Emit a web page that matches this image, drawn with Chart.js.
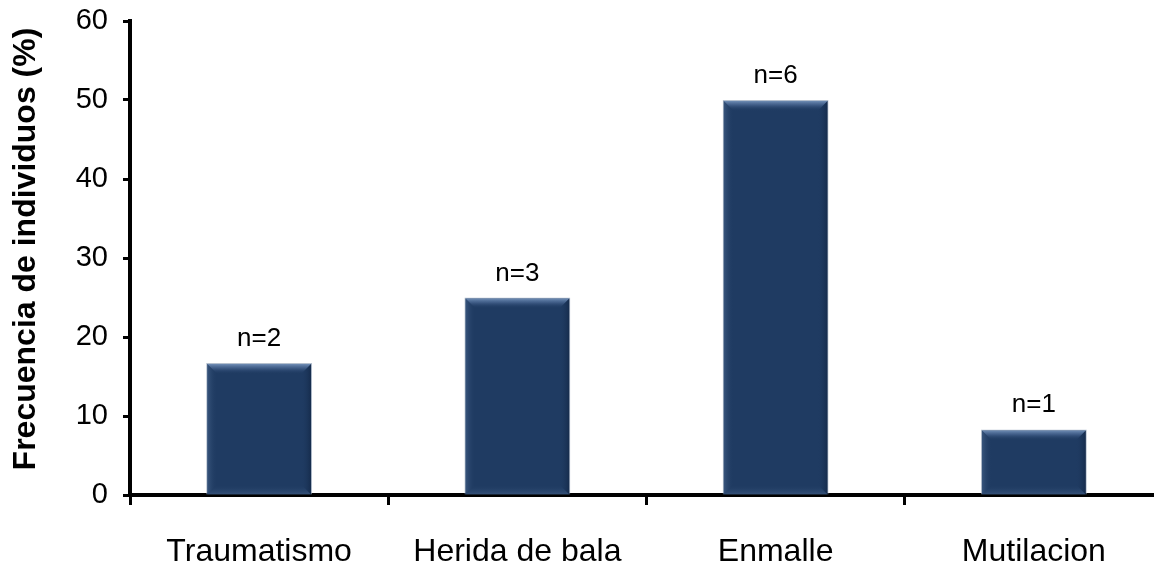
<!DOCTYPE html>
<html>
<head>
<meta charset="utf-8">
<script src="https://cdn.jsdelivr.net/npm/chart.js@4/dist/chart.umd.min.js"></script>
<style>
  html, body { margin: 0; padding: 0; background: #fff; overflow: hidden; }
  #wrap { position: absolute; left: 0; top: 0; width: 1168px; height: 563px; }
</style>
</head>
<body>
<div id="wrap"><canvas id="chart" width="1168" height="563"></canvas></div>
<script>
// Causes of injury and share of individuals affected
const categories = ['Traumatismo', 'Herida de bala', 'Enmalle', 'Mutilacion'];
const frequencyPct = [16.7, 25, 50, 8.3];
const counts = [2, 3, 6, 1];
const yTicks = [0, 10, 20, 30, 40, 50, 60];
const yTitle = 'Frecuencia de individuos (%)';

const FONT = "'Liberation Sans', Arial, sans-serif";
const BAR_FILL = '#1f3b62';

// Bevelled look on each bar: light top edge, shaded sides, soft bottom edge
const bevelPlugin = {
  id: 'bevel',
  afterDatasetsDraw(chart) {
    const ctx = chart.ctx;
    chart.getDatasetMeta(0).data.forEach((bar) => {
      const { x, y, base, width } = bar.getProps(['x', 'y', 'base', 'width'], true);
      const l = x - width / 2 + 1, r = x + width / 2 - 1, t = y + 1, b = base;
      const s = Math.min(10, (b - t) / 2);
      ctx.save();
      // top facet
      let g = ctx.createLinearGradient(0, t, 0, t + s);
      g.addColorStop(0, 'rgba(120,150,190,0.9)');
      g.addColorStop(0.4, 'rgba(90,120,165,0.55)');
      g.addColorStop(1, 'rgba(31,59,98,0)');
      ctx.fillStyle = g;
      ctx.beginPath();
      ctx.moveTo(l, t); ctx.lineTo(r, t); ctx.lineTo(r - s, t + s); ctx.lineTo(l + s, t + s);
      ctx.closePath(); ctx.fill();
      // left facet
      g = ctx.createLinearGradient(l, 0, l + s, 0);
      g.addColorStop(0, 'rgba(80,110,150,0.5)');
      g.addColorStop(1, 'rgba(31,59,98,0)');
      ctx.fillStyle = g;
      ctx.beginPath();
      ctx.moveTo(l, t); ctx.lineTo(l + s, t + s); ctx.lineTo(l + s, b - s); ctx.lineTo(l, b);
      ctx.closePath(); ctx.fill();
      // right facet
      g = ctx.createLinearGradient(r, 0, r - s, 0);
      g.addColorStop(0, 'rgba(10,25,50,0.45)');
      g.addColorStop(1, 'rgba(31,59,98,0)');
      ctx.fillStyle = g;
      ctx.beginPath();
      ctx.moveTo(r, t); ctx.lineTo(r - s, t + s); ctx.lineTo(r - s, b - s); ctx.lineTo(r, b);
      ctx.closePath(); ctx.fill();
      // bottom facet
      g = ctx.createLinearGradient(0, b, 0, b - s);
      g.addColorStop(0, 'rgba(80,110,150,0.45)');
      g.addColorStop(1, 'rgba(31,59,98,0)');
      ctx.fillStyle = g;
      ctx.beginPath();
      ctx.moveTo(l, b); ctx.lineTo(r, b); ctx.lineTo(r - s, b - s); ctx.lineTo(l + s, b - s);
      ctx.closePath(); ctx.fill();
      ctx.restore();
    });
  }
};

// "n=" count above each bar
const countLabels = {
  id: 'countLabels',
  afterDatasetsDraw(chart) {
    const ctx = chart.ctx;
    ctx.save();
    ctx.font = '26px ' + FONT;
    ctx.fillStyle = '#000';
    ctx.textAlign = 'center';
    ctx.textBaseline = 'alphabetic';
    chart.getDatasetMeta(0).data.forEach((bar, i) => {
      ctx.fillText('n=' + counts[i], bar.x, bar.y - 17);
    });
    ctx.restore();
  }
};

// Rotated y-axis title
const yTitlePlugin = {
  id: 'yTitle',
  afterDraw(chart) {
    const ctx = chart.ctx;
    ctx.save();
    ctx.translate(26, 249);
    ctx.rotate(-Math.PI / 2);
    ctx.font = 'bold 32px ' + FONT;
    ctx.fillStyle = '#000';
    ctx.textAlign = 'center';
    ctx.textBaseline = 'middle';
    ctx.fillText(yTitle, 0, 0);
    ctx.restore();
  }
};

new Chart(document.getElementById('chart'), {
  type: 'bar',
  data: {
    labels: categories,
    datasets: [{
      data: frequencyPct,
      backgroundColor: BAR_FILL,
      borderColor: 'rgba(150,165,185,0.7)',
      borderWidth: 1,
      barPercentage: 0.41,
      categoryPercentage: 1
    }]
  },
  options: {
    responsive: false,
    animation: false,
    layout: { padding: { top: 21, right: 5, left: 0, bottom: 0 } },
    plugins: { legend: { display: false }, tooltip: { enabled: false } },
    scales: {
      x: {
        offset: true,
        border: { display: true, color: '#000', width: 4 },
        grid: {
          offset: true, drawOnChartArea: false, drawTicks: true,
          tickLength: 10, tickWidth: 3, tickColor: '#000'
        },
        ticks: { color: '#000', font: { family: FONT, size: 32 }, padding: 28, maxRotation: 0 },
        afterFit(scale) { scale.height = 68; scale.paddingLeft = 0; scale.paddingRight = 0; }
      },
      y: {
        min: 0, max: 60,
        afterBuildTicks(scale) { scale.ticks = yTicks.map(v => ({ value: v })); },
        border: { display: true, color: '#000', width: 4 },
        grid: {
          drawOnChartArea: false, drawTicks: true,
          tickLength: 7, tickWidth: 3, tickColor: '#000'
        },
        ticks: { color: '#000', font: { family: FONT, size: 29 }, padding: 15 },
        afterFit(scale) { scale.width = 130; scale.paddingTop = 0; scale.paddingBottom = 0; }
      }
    }
  },
  plugins: [bevelPlugin, countLabels, yTitlePlugin]
});
</script>
</body>
</html>
